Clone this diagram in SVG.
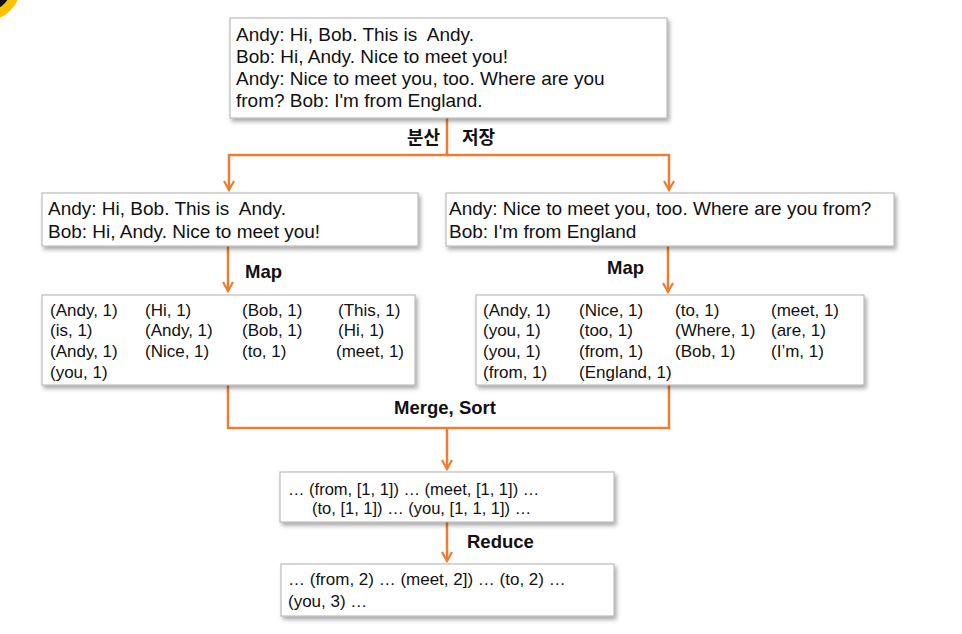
<svg xmlns="http://www.w3.org/2000/svg" width="962" height="634" viewBox="0 0 962 634">
<style>
text{font-family:"Liberation Sans","Noto Sans CJK KR",sans-serif;font-size:19px;fill:#111;}
.lbl{font-weight:bold;font-size:18.5px;}
.kr{font-family:"Noto Sans CJK KR",sans-serif;font-size:18px;}
.m{font-size:17px;}
.s{font-size:16.5px;}
.r{font-size:17px;}
.box{fill:#fff;stroke:#b0b0b0;stroke-width:1;filter:url(#sh);}
.con{fill:none;stroke:#ED7D31;stroke-width:2.5;}
</style>
<defs>
<filter id="sh" x="-5%" y="-10%" width="112%" height="130%">
<feDropShadow dx="2" dy="3" stdDeviation="2" flood-color="#000" flood-opacity="0.35"/>
</filter>
<marker id="ah" viewBox="0 0 12 12" refX="10" refY="6" markerWidth="12" markerHeight="12" markerUnits="userSpaceOnUse" orient="auto">
<path d="M1,1 L10,6 L1,11" fill="none" stroke="#ED7D31" stroke-width="2.2"/>
</marker>
</defs>
<rect width="962" height="634" fill="#fff"/>
<circle cx="-14" cy="-14" r="30" fill="#111" stroke="#FFC000" stroke-width="9"/>

<g id="connectors">
<polyline class="con" points="447,118 447,155 229,155 229,190" marker-end="url(#ah)"/>
<polyline class="con" points="447,155 669,155 669,190" marker-end="url(#ah)"/>
<line class="con" x1="228" y1="246" x2="228" y2="291" marker-end="url(#ah)"/>
<line class="con" x1="668" y1="246" x2="668" y2="292" marker-end="url(#ah)"/>
<polyline class="con" points="228,385 228,428 669,428 669,385"/>
<line class="con" x1="447" y1="428" x2="447" y2="469" marker-end="url(#ah)"/>
<line class="con" x1="447" y1="522" x2="447" y2="561" marker-end="url(#ah)"/>
<text class="lbl kr" x="440" y="144" text-anchor="end">분산</text>
<text class="lbl kr" x="462" y="144">저장</text>
<text class="lbl" x="245" y="278">Map</text>
<text class="lbl" x="607" y="274">Map</text>
<text class="lbl" x="445" y="414" text-anchor="middle">Merge, Sort</text>
<text class="lbl" x="467" y="548">Reduce</text>
</g>

<g id="input">
<rect class="box" x="230" y="18" width="437" height="100"/>
<text x="236" y="41">Andy: Hi, Bob. This is&#160; Andy.</text>
<text x="236" y="63">Bob: Hi, Andy. Nice to meet you!</text>
<text x="236" y="85">Andy: Nice to meet you, too. Where are you</text>
<text x="236" y="107">from? Bob: I'm from England.</text>
</g>

<g id="split1">
<rect class="box" x="42" y="193" width="376" height="53"/>
<text x="48" y="215">Andy: Hi, Bob. This is&#160; Andy.</text>
<text x="48" y="238">Bob: Hi, Andy. Nice to meet you!</text>
</g>

<g id="split2">
<rect class="box" x="446" y="193" width="448" height="53"/>
<text x="449" y="215">Andy: Nice to meet you, too. Where are you from?</text>
<text x="449" y="238">Bob: I'm from England</text>
</g>

<g id="map1">
<rect class="box" x="42" y="295" width="373" height="90"/>
<text class="m" x="50" y="316">(Andy, 1)</text><text class="m" x="145" y="316">(Hi, 1)</text><text class="m" x="242" y="316">(Bob, 1)</text><text class="m" x="338" y="316">(This, 1)</text>
<text class="m" x="50" y="336">(is, 1)</text><text class="m" x="145" y="336">(Andy, 1)</text><text class="m" x="242" y="336">(Bob, 1)</text><text class="m" x="338" y="336">(Hi, 1)</text>
<text class="m" x="50" y="357">(Andy, 1)</text><text class="m" x="145" y="357">(Nice, 1)</text><text class="m" x="242" y="357">(to, 1)</text><text class="m" x="336" y="357">(meet, 1)</text>
<text class="m" x="50" y="378">(you, 1)</text>
</g>

<g id="map2">
<rect class="box" x="476" y="295" width="388" height="90"/>
<text class="m" x="483" y="316">(Andy, 1)</text><text class="m" x="579" y="316">(Nice, 1)</text><text class="m" x="675" y="316">(to, 1)</text><text class="m" x="771" y="316">(meet, 1)</text>
<text class="m" x="483" y="336">(you, 1)</text><text class="m" x="579" y="336">(too, 1)</text><text class="m" x="675" y="336">(Where, 1)</text><text class="m" x="771" y="336">(are, 1)</text>
<text class="m" x="483" y="357">(you, 1)</text><text class="m" x="579" y="357">(from, 1)</text><text class="m" x="675" y="357">(Bob, 1)</text><text class="m" x="771" y="357">(I’m, 1)</text>
<text class="m" x="483" y="378">(from, 1)</text><text class="m" x="579" y="378">(England, 1)</text>
</g>

<g id="sorted">
<rect class="box" x="280" y="472" width="334" height="50"/>
<text class="s" x="288" y="495">… (from, [1, 1]) … (meet, [1, 1]) …</text>
<text class="s" x="312" y="514">(to, [1, 1]) … (you, [1, 1, 1]) …</text>
</g>

<g id="reduced">
<rect class="box" x="281" y="564" width="333" height="52"/>
<text class="r" x="288" y="585">… (from, 2) … (meet, 2]) … (to, 2) …</text>
<text class="r" x="288" y="607">(you, 3) …</text>
</g>
</svg>
